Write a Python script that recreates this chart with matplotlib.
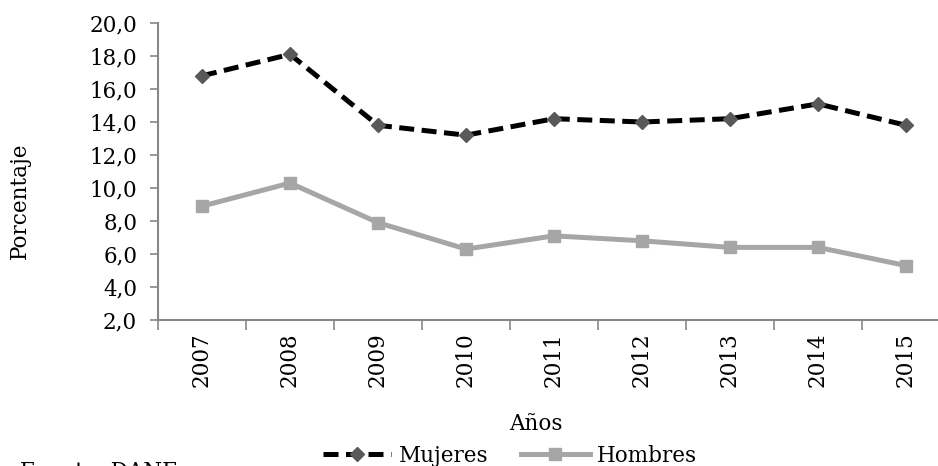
import matplotlib
matplotlib.use("Agg")
import matplotlib.pyplot as plt
from matplotlib.lines import Line2D

years = ["2007", "2008", "2009", "2010", "2011", "2012", "2013", "2014", "2015"]
mujeres = [16.8, 18.1, 13.8, 13.2, 14.2, 14.0, 14.2, 15.1, 13.8]
hombres = [8.9, 10.3, 7.9, 6.3, 7.1, 6.8, 6.4, 6.4, 5.3]
yticks = [2, 4, 6, 8, 10, 12, 14, 16, 18, 20]

plt.rcParams['font.family'] = ['DejaVu Serif']
FS = 15.5
W, H = 938, 466
fig = plt.figure(figsize=(W/100, H/100), dpi=100)
ax = fig.add_axes([158/W, 1-320/H, (950-158)/W, (320-23)/H])

x = list(range(len(years)))
ax.plot(x, mujeres, color='black', lw=3.6, ls=(0, (3, 1.5)), marker='D',
        markersize=7, markerfacecolor='#595959', markeredgecolor='#595959', zorder=3)
ax.plot(x, hombres, color='#A6A6A6', lw=3.6, marker='s',
        markersize=9, markerfacecolor='#A6A6A6', markeredgecolor='#A6A6A6', zorder=3)

ax.set_xlim(-0.5, len(years)-0.5)
ax.set_ylim(2, 20)
ax.set_yticks(yticks)
ax.set_yticklabels([f"{v:.1f}".replace('.', ',') for v in yticks], fontsize=FS)
ax.set_xticks([i+0.5 for i in range(-1, len(years))], minor=False)
ax.set_xticklabels([])
ax.set_xticks(x, minor=True)
ax.set_xticklabels(years, minor=True, rotation=90, fontsize=FS)
ax.tick_params(axis='x', which='minor', length=0, pad=9)
ax.tick_params(axis='x', which='major', length=7, color='#888888', width=1.2)
ax.tick_params(axis='y', length=6, color='#888888', width=1.2, pad=9)
for s in ['top', 'right']:
    ax.spines[s].set_visible(False)
for s in ['left', 'bottom']:
    ax.spines[s].set_color('#888888')
    ax.spines[s].set_linewidth(1.5)

fig.text(20/W, 1-201/H, "Porcentaje", rotation=90, ha='center', va='center', fontsize=FS)
fig.text(536/W, 1-424/H, "Años", ha='center', va='center', fontsize=FS)

handles = [Line2D([], [], color='black', lw=3.6, ls=(0, (3, 1.5)), marker='D', markersize=7,
                  markerfacecolor='#595959', markeredgecolor='#595959'),
           Line2D([], [], color='#A6A6A6', lw=3.6, marker='s', markersize=9,
                  markerfacecolor='#A6A6A6', markeredgecolor='#A6A6A6')]
fig.legend(handles, ["Mujeres", "Hombres"], loc='center', bbox_to_anchor=(510/W, 1-456/H),
           ncol=2, frameon=False, fontsize=FS, handlelength=3.2, handletextpad=0.35,
           columnspacing=1.5, borderpad=0)

fig.text(20/W, 1-461/H, "Fuente: DANE", ha='left', va='top', fontsize=FS)

fig.savefig("out.png", dpi=100)
